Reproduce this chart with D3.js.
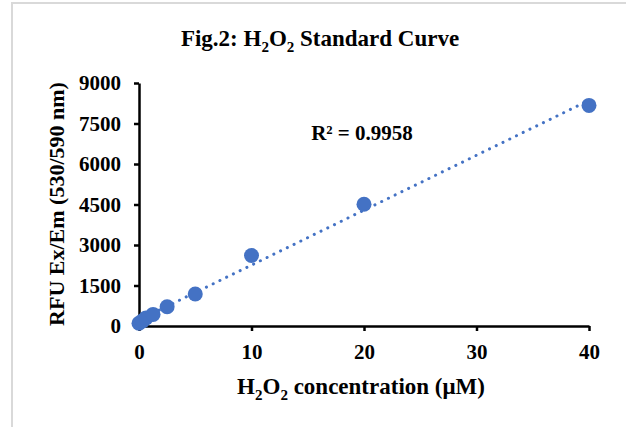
<!doctype html>
<html lang="en">
<head>
  <meta charset="utf-8">
  <title>H2O2 Standard Curve</title>
  <script src="https://cdn.jsdelivr.net/npm/d3@7"></script>
  <style>
    body { margin: 0; background: #fff; }
    text { font-family: "Liberation Serif", "Times New Roman", serif; font-weight: bold; fill: #000; }
  </style>
</head>
<body>
  <svg id="chart" width="626" height="427"></svg>
  <script>
    // concentrations (uM) and RFU
    var conc = [0, 0.3125, 0.625, 1.25, 2.5, 5, 10, 20, 40];
    var rfu = [100, 190, 300, 430, 715, 1185, 2610, 4510, 8170];
    var yTicks = [0, 1500, 3000, 4500, 6000, 7500, 9000];
    var xTicks = [0, 10, 20, 30, 40];
    var r2Label = "R² = 0.9958";

    var svg = d3.select("#chart");
    // light frame round the picture (only top and left show)
    svg.append("rect").attr("x", 12).attr("y", 3).attr("width", 700).attr("height", 500)
      .attr("fill", "none").attr("stroke", "#d9d9d9").attr("stroke-width", 2);

    var x = d3.scaleLinear().domain([0, 40]).range([139, 589]);
    var y = d3.scaleLinear().domain([0, 9000]).range([326, 83]);

    var pts = conc.map((c, i) => ({x: c, y: rfu[i]}));

    // least squares fit for the trendline
    var mx = d3.mean(conc), my = d3.mean(rfu);
    var slope = d3.sum(pts, d => (d.x - mx) * (d.y - my)) / d3.sum(pts, d => (d.x - mx) * (d.x - mx));
    var icpt = my - slope * mx;
    var fit = [0, 40].map(c => ({x: c, y: icpt + slope * c}));

    svg.append("path")
      .datum(fit)
      .attr("d", d3.line().x(d => x(d.x)).y(d => y(d.y)))
      .attr("stroke", "#4472c4").attr("stroke-width", 3)
      .attr("stroke-dasharray", "0.1 7.4").attr("stroke-linecap", "round")
      .attr("fill", "none");

    var yAxis = svg.append("g").attr("transform", "translate(139,0)")
      .call(d3.axisLeft(y).tickValues(yTicks).tickFormat(d3.format("d"))
        .tickSize(5).tickSizeOuter(0).tickPadding(13));
    var xAxis = svg.append("g").attr("transform", "translate(0,326)")
      .call(d3.axisBottom(x).tickValues(xTicks).tickFormat(d3.format("d"))
        .tickSize(5).tickSizeOuter(0).tickPadding(13));
    [xAxis, yAxis].forEach(a => {
      a.select(".domain").attr("stroke", "#000").attr("stroke-width", 2.5);
      a.selectAll(".tick line").attr("stroke", "#000").attr("stroke-width", 2.5);
      a.selectAll(".tick text").style("font-size", "21px")
        .style("font-family", "'Liberation Serif', serif").style("font-weight", "bold");
    });

    svg.append("g").selectAll("circle")
      .data(pts).enter().append("circle")
      .attr("cx", d => x(d.x)).attr("cy", d => y(d.y)).attr("r", 7.5)
      .attr("fill", "#4472c4");

    // title
    var t = svg.append("text").attr("x", 320).attr("y", 46).attr("text-anchor", "middle")
      .style("font-size", "23px");
    t.append("tspan").text("Fig.2: H");
    t.append("tspan").attr("dy", 6).style("font-size", "15px").text("2");
    t.append("tspan").attr("dy", -6).text("O");
    t.append("tspan").attr("dy", 6).style("font-size", "15px").text("2");
    t.append("tspan").attr("dy", -6).text(" Standard Curve");

    // x axis title
    var xl = svg.append("text").attr("x", 361).attr("y", 394).attr("text-anchor", "middle")
      .style("font-size", "23px");
    xl.append("tspan").text("H");
    xl.append("tspan").attr("dy", 6).style("font-size", "15px").text("2");
    xl.append("tspan").attr("dy", -6).text("O");
    xl.append("tspan").attr("dy", 6).style("font-size", "15px").text("2");
    xl.append("tspan").attr("dy", -6).text(" concentration (μM)");

    // y axis title
    svg.append("text").attr("transform", "translate(64,204) rotate(-90)")
      .attr("text-anchor", "middle").style("font-size", "22px")
      .text("RFU Ex/Em (530/590 nm)");

    svg.append("text").attr("x", 362).attr("y", 140).attr("text-anchor", "middle")
      .style("font-size", "21px").text(r2Label);
  </script>
</body>
</html>
